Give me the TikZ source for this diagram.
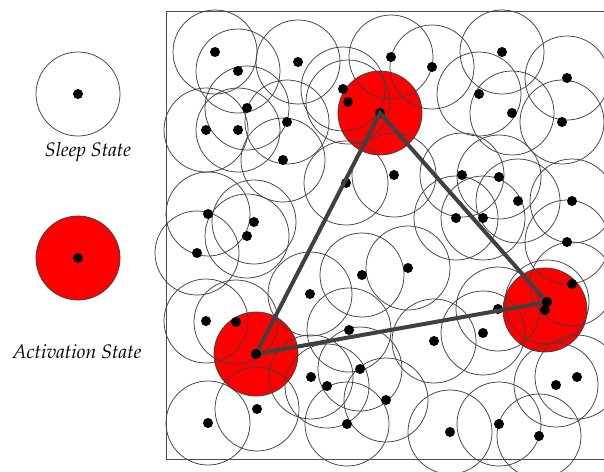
\documentclass[tikz,border=0pt]{standalone}
\usepackage[T1]{fontenc}
\usepackage{mathpazo}
\begin{document}
\begin{tikzpicture}[x=1pt,y=-1pt,
  sensor/.style={circle,fill=black,inner sep=0pt,minimum size=10pt},
  sensrange/.style={draw=black!75,line width=0.75pt},
  actzone/.style={fill=red,draw=black!75,line width=0.75pt},
  trilink/.style={draw=black!75,line width=4pt,line join=miter},
  boxframe/.style={draw=black!70,line width=1pt},
  lbl/.style={font=\fontsize{19.5}{22}\selectfont\itshape}]
\useasboundingbox (0,0) rectangle (604,471);
% frame
\draw[boxframe] (700,11) -- (166.5,11) -- (166.5,459.5) -- (700,459.5);
% legend
\coordinate (ls) at (78,94);
\coordinate (la) at (78,258);
\draw[sensrange] (ls) circle (42);
\draw[actzone] (la) circle (42);
\node[sensor] (lsd) at (ls) {};
\node[sensor] (lad) at (la) {};
\node[lbl] (lst) at (88,152) {Sleep State};
\node[lbl] (lat) at (77,352) {Activation State};
% active regions
\draw[actzone] (380,113) circle (42);
\draw[actzone] (256,354) circle (42);
\draw[actzone] (545,310) circle (42);
% sensing ranges
\foreach \x/\y [count=\i] in {215/52,238/71,298/62,343/89,348/102,247/108,287/122,206/130,238/130,283/160,
391/57,432/67,502/52,479/94,512/113,567/78,562/122,346/183,208/214,254/222,
247/236,197/253,310/294,362/275,394/175,462/175,499/177,518/201,572/201,456/218,
483/218,567/242,408/268,572/284,547/302,498/309,206/321,236/322,349/330,360/369,
311/377,327/386,386/400,257/409,208/423,347/424,483/333,434/341,577/377,556/385,
450/432,499/424,539/436}
  {\draw[sensrange] (\x,\y) circle (42);}
% nodes
\node[sensor] (ta) at (380,113) {};
\node[sensor] (tb) at (256,354) {};
\node[sensor] (tc) at (545,310) {};
\foreach \x/\y [count=\i] in {215/52,238/71,298/62,343/89,348/102,247/108,287/122,206/130,238/130,283/160,
391/57,432/67,502/52,479/94,512/113,567/78,562/122,346/183,208/214,254/222,
247/236,197/253,310/294,362/275,394/175,462/175,499/177,518/201,572/201,456/218,
483/218,567/242,408/268,572/284,547/302,498/309,206/321,236/322,349/330,360/369,
311/377,327/386,386/400,257/409,208/423,347/424,483/333,434/341,577/377,556/385,
450/432,499/424,539/436}
  {\node[sensor] (s\i) at (\x,\y) {};}
\draw[trilink] (ta.center) -- (tb.center) -- (s35.center) -- cycle;
\node[sensor] (tb2) at (tb) {};
\node[sensor] (s35b) at (s35) {};
\end{tikzpicture}
\end{document}
